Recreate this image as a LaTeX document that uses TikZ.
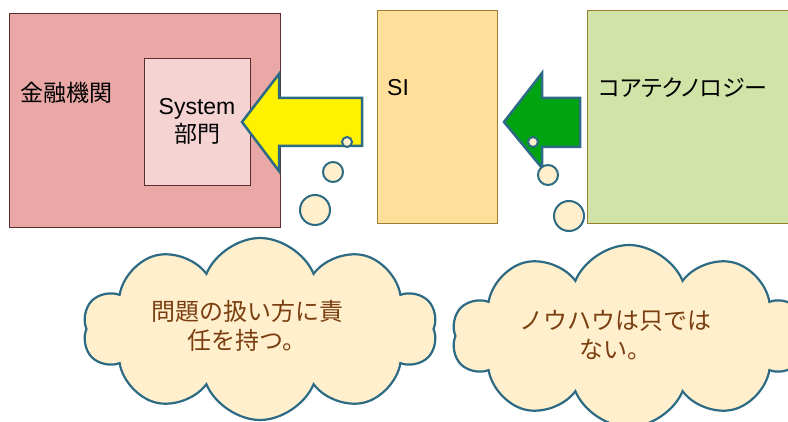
\documentclass[tikz,border=0pt]{standalone}
\usepackage{fontspec}
\setmainfont{Liberation Sans}
\newfontfamily\jp{Noto Sans CJK JP}
\newfontfamily\jpp[RawFeature=+palt]{Noto Sans CJK JP}
\usetikzlibrary{shapes.symbols}
\definecolor{rosa}{HTML}{E9A7A6}
\definecolor{rosachiaro}{HTML}{F4D3D2}
\definecolor{bordorosa}{HTML}{5A2E2E}
\definecolor{arancio}{HTML}{FFE09A}
\definecolor{bordoarancio}{HTML}{A07D2E}
\definecolor{verdino}{HTML}{D1E3A7}
\definecolor{bordoverde}{HTML}{98802F}
\definecolor{verde}{HTML}{00A310}
\definecolor{teal}{HTML}{2D6A83}
\definecolor{crema}{HTML}{FFEFCC}
\definecolor{marrone}{HTML}{7A3E10}
\begin{document}
\begin{tikzpicture}[x=1pt,y=-1pt,
    scatola/.style={draw=#1, line width=0.8pt, inner sep=0pt},
    testo/.style={font=\fontsize{23}{28}\selectfont, inner sep=0pt},
    bolla/.style={draw=teal, fill=crema, line width=2pt},
    freccia/.style={draw=teal, line width=2.5pt, line join=miter},
    nuvola/.style={cloud, cloud puffs=10, cloud puff arc=135, cloud ignores aspect, draw=teal, fill=crema,
        line width=2.2pt, minimum width=354pt, minimum height=182pt, inner sep=0pt},
    fumetto/.style={text=marrone, align=center, font=\jp\fontsize{24}{29}\selectfont}]
    \clip (0,0) rectangle (788,422);
    % Riquadri
    \node[scatola=bordorosa, fill=rosa, minimum width=271pt, minimum height=214pt] (kinyu) at (144.5,120) {};
    \node[scatola=bordorosa, fill=rosachiaro, minimum width=106pt, minimum height=127pt] (sysdept) at (197,121.5) {};
    \node[scatola=bordoarancio, fill=arancio, minimum width=120pt, minimum height=213pt] (si) at (437,116.5) {};
    \node[scatola=bordoverde, fill=verdino, minimum width=230pt, minimum height=213pt] (core) at (702,116.5) {};
    \node[testo, anchor=west] (kinyulbl) at (20,93) {\jp 金融機関};
    \node[testo, align=center] (syslbl) at (sysdept) {System\\{\jp 部門}};
    \node[testo, anchor=west] (silbl) at (387,88) {SI};
    \node[testo, anchor=west] (corelbl) at (598,88) {\jpp コアテクノロジー};
    % Frecce
    \draw[freccia, fill=yellow] (242,122) -- (279,74) -- (279,98) -- (362,98) -- (362,146)
        -- (279,146) -- (279,171) -- cycle;
    \draw[freccia, fill=verde] (504,122) -- (542,73) -- (542,98) -- (580,98) -- (580,147)
        -- (542,147) -- (542,168) -- cycle;
    % Bolle
    \draw[bolla] (347,142) circle (5);
    \draw[bolla] (333,172) circle (10);
    \draw[bolla] (315,210) circle (15);
    \draw[bolla] (533,142) circle (5);
    \draw[bolla] (548,175) circle (10);
    \draw[bolla] (569,216) circle (15);
    % Nuvole
    \node[nuvola] (nuvola1) at (260,329) {};
    \node[fumetto] (testo1) at (247,326) {問題の扱い方に責\\任を持つ。};
    \node[nuvola] (nuvola2) at (629,336) {};
    \node[fumetto] (testo2) at (615,335) {ノウハウは只では\\ない。};
\end{tikzpicture}
\end{document}
